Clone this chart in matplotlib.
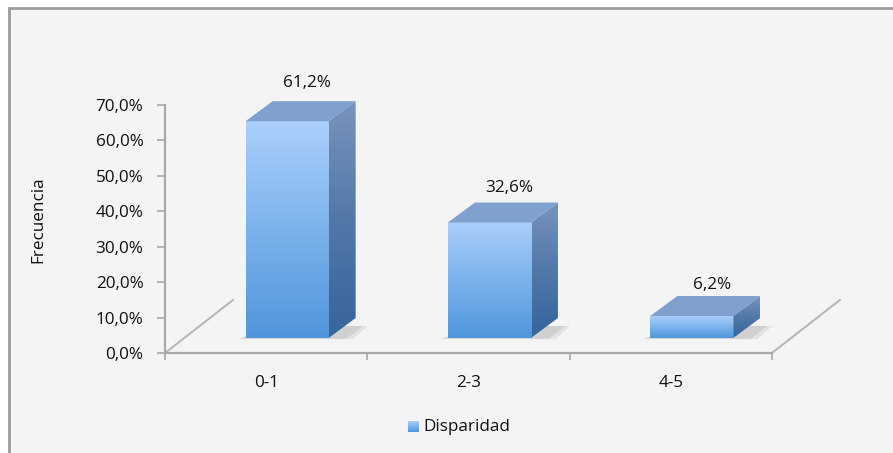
import numpy as np
import matplotlib
matplotlib.use('Agg')
import matplotlib.pyplot as plt
from matplotlib.patches import Polygon, Rectangle
from matplotlib.colors import LinearSegmentedColormap

# data
categories = ['0-1', '2-3', '4-5']
values = [61.2, 32.6, 6.2]
labels = ['61,2%', '32,6%', '6,2%']
series_name = 'Disparidad'
y_label = 'Frecuencia'
y_ticks = [0, 10, 20, 30, 40, 50, 60, 70]

plt.rcParams['font.family'] = ['Open Sans', 'DejaVu Sans']
fs = 12.3
txt_col = '#111111'

W, H = 893, 453
fig = plt.figure(figsize=(W / 100, H / 100), dpi=100)
fig.patch.set_facecolor('white')

# chart frame (only top/left edges visible)
fig.patches.append(Rectangle((9 / W, -0.1), 1.2, (H - 8) / H + 0.1, transform=fig.transFigure,
                             facecolor='#f4f4f4', edgecolor='#9c9c9c', linewidth=2, zorder=-10))

# plot area geometry (pixels)
px_cat = 202.3
px_unit = 3.543
left_px, right_px, zero_px, top_px = 165, 860, 353, 69.6
ax = fig.add_axes([left_px / W, (H - zero_px) / H, (right_px - left_px) / W, (zero_px - top_px) / H])
ax.set_facecolor('none')

# 3D offsets in data units
fdx, fdy = 68 / px_cat, 53 / px_unit      # floor depth
odx, ody = 21 / px_cat, 15 / px_unit      # bar front plane offset
ddx, ddy = 27 / px_cat, 20 / px_unit      # bar depth
w = 83 / px_cat

axis_col = '#a8a8a8'
for sp in ['top', 'right']:
    ax.spines[sp].set_visible(False)
for sp in ['left', 'bottom']:
    ax.spines[sp].set_color(axis_col)
    ax.spines[sp].set_linewidth(1.6)
ax.spines['left'].set_bounds(0, 70)
n = len(categories)
ax.spines['bottom'].set_bounds(-0.5, n - 0.5)

# floor diagonals
for xb in [-0.5, n - 0.5]:
    ax.plot([xb, xb + fdx], [0, fdy], color='#b4b4b4', lw=1.4, clip_on=False, zorder=1)

ax.set_yticks(y_ticks)
ax.set_yticklabels([('%.1f%%' % t).replace('.', ',') for t in y_ticks], color=txt_col)
ax.tick_params(axis='y', length=6, width=1.2, color=axis_col, labelsize=fs, pad=9.5)
ax.set_xticks([i - 0.5 for i in range(n + 1)])
ax.set_xticklabels([])
ax.tick_params(axis='x', which='major', length=5, width=1.2, color=axis_col)
ax.set_xticks(range(n), minor=True)
ax.set_xticklabels(categories, minor=True, color=txt_col)
ax.tick_params(axis='x', which='minor', length=0, labelsize=fs, pad=16)

front_cm = LinearSegmentedColormap.from_list('front', ['#5096da', '#7cb2ec', '#aacffb'])
side_cm = LinearSegmentedColormap.from_list('side', ['#36649c', '#5278a8', '#7894bc'])
grad = np.linspace(0, 1, 256).reshape(-1, 1)

for i, v in enumerate(values):
    x0 = i - w / 2 + odx
    x1 = x0 + w
    y0 = ody
    top = y0 + v
    # soft shadow on floor
    for k, a in [(1.0, 0.25), (0.6, 0.35)]:
        ax.add_patch(Polygon([(x0 - 0.04 * k, y0 - 0.3 * k), (x1 + ddx * 0.3 + 0.08 * k, y0 - 0.3 * k),
                              (x1 + ddx + 0.06 * k, y0 + ddy * 0.6), (x0 + ddx, y0 + ddy * 0.6)],
                             closed=True, facecolor='#b0b0b0', edgecolor='none', alpha=a, zorder=2))
    # front face
    ax.imshow(grad, cmap=front_cm, extent=(x0, x1, y0, top), origin='lower', aspect='auto', zorder=4)
    # side face
    side = Polygon([(x1, y0), (x1 + ddx, y0 + ddy), (x1 + ddx, top + ddy), (x1, top)], closed=True,
                   facecolor='none', edgecolor='none', zorder=3)
    ax.add_patch(side)
    im = ax.imshow(grad, cmap=side_cm, extent=(x1, x1 + ddx, y0, top + ddy), origin='lower',
                   aspect='auto', zorder=3)
    im.set_clip_path(side)
    # top face
    ax.add_patch(Polygon([(x0, top), (x1, top), (x1 + ddx, top + ddy), (x0 + ddx, top + ddy)],
                         closed=True, facecolor='#80a0cd', edgecolor='none', zorder=5))
    ax.text(i + odx + 0.1, top + ddy + 2.8 + 0.04 * v, labels[i], ha='center', va='center', fontsize=fs,
            color=txt_col, zorder=6)

ax.set_xlim(-0.5, -0.5 + (right_px - left_px) / px_cat)
ax.set_ylim(0, (zero_px - top_px) / px_unit)

# y label
fig.text(38 / W, 1 - 220 / H, y_label, rotation=90, ha='center', va='center', fontsize=fs, color=txt_col)

# legend
lax = fig.add_axes([408 / W, (H - 432) / H, 11 / W, 11 / H])
lax.imshow(grad, cmap=front_cm, origin='lower', aspect='auto')
lax.axis('off')
fig.text(423 / W, 1 - 427 / H, series_name, ha='left', va='center', fontsize=fs, color=txt_col)

fig.savefig('out.png', dpi=100, facecolor=fig.get_facecolor())
